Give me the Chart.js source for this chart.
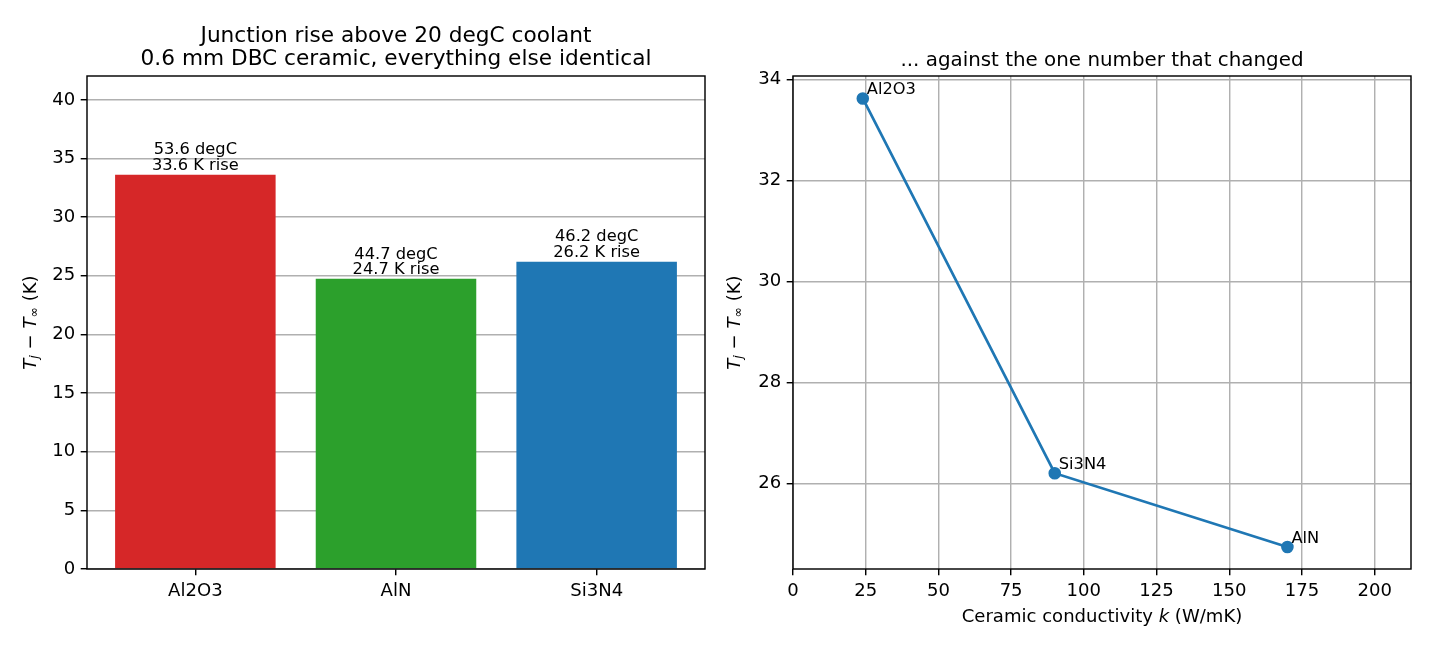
<!DOCTYPE html>
<html><head><meta charset="utf-8">
<script src="https://cdn.jsdelivr.net/npm/chart.js@4"></script>
<style>
html,body{margin:0;padding:0;background:#fff;}
#wrap{position:relative;width:1430px;height:650px;background:#fff;}
canvas{position:absolute;top:0;}
</style></head><body>
<div id="wrap">
<canvas id="c1" width="715" height="650" style="left:0px"></canvas>
<canvas id="c2" width="715" height="650" style="left:715px"></canvas>
</div>
<script>
// ---- data ----
const ceramics = ['Al2O3', 'AlN', 'Si3N4'];
const riseK = [33.62, 24.74, 26.2];
const junctionC = [53.62, 44.74, 46.2];
const barColors = ['#d62728', '#2ca02c', '#1f77b4'];
const lineNames = ['Al2O3', 'Si3N4', 'AlN'];
const lineK = [24, 90, 170];
const lineRise = [33.62, 26.2, 24.74];
const barYTicks = [0, 5, 10, 15, 20, 25, 30, 35, 40];
const lineXTicks = [0, 25, 50, 75, 100, 125, 150, 175, 200];
const lineYTicks = [26, 28, 30, 32, 34];
const leftTitle = ['Junction rise above 20 degC coolant', '0.6 mm DBC ceramic, everything else identical'];
const rightTitle = '... against the one number that changed';

// ---- style ----
const FF = "'DejaVu Sans', sans-serif";
const PT = 130 / 72;
const TICK_FS = 10 * PT, LABEL_FS = 10 * PT, ANN_FS = 9 * PT;
const GRID = '#b0b0b0';

function drawYLabel(ctx, cx, cy) {
  const fs = LABEL_FS, sub = fs * 0.7;
  const parts = [
    {t: 'T', f: 'italic ' + fs + 'px ' + FF, dy: 0},
    {t: 'j', f: 'italic ' + sub + 'px ' + FF, dy: fs * 0.2},
    {t: ' \u2212 ', f: fs + 'px ' + FF, dy: 0},
    {t: 'T', f: 'italic ' + fs + 'px ' + FF, dy: 0},
    {t: '\u221e', f: sub + 'px ' + FF, dy: fs * 0.2},
    {t: ' (K)', f: fs + 'px ' + FF, dy: 0}
  ];
  ctx.save();
  let w = 0;
  parts.forEach(p => { ctx.font = p.f; p.w = ctx.measureText(p.t).width; w += p.w; });
  ctx.translate(cx, cy);
  ctx.rotate(-Math.PI / 2);
  ctx.fillStyle = '#000';
  ctx.textBaseline = 'middle';
  ctx.textAlign = 'left';
  let x = -w / 2;
  parts.forEach(p => { ctx.font = p.f; ctx.fillText(p.t, x, p.dy); x += p.w; });
  ctx.restore();
}
function drawXLabel(ctx, cx, by) {
  const fs = LABEL_FS;
  const parts = [
    {t: 'Ceramic conductivity ', f: fs + 'px ' + FF},
    {t: 'k', f: 'italic ' + fs + 'px ' + FF},
    {t: ' (W/mK)', f: fs + 'px ' + FF}
  ];
  ctx.save();
  let w = 0;
  parts.forEach(p => { ctx.font = p.f; p.w = ctx.measureText(p.t).width; w += p.w; });
  ctx.fillStyle = '#000'; ctx.textBaseline = 'alphabetic'; ctx.textAlign = 'left';
  let x = cx - w / 2;
  parts.forEach(p => { ctx.font = p.f; ctx.fillText(p.t, x, by); x += p.w; });
  ctx.restore();
}
function spines(chart) {
  const a = chart.chartArea, ctx = chart.ctx;
  ctx.save();
  ctx.strokeStyle = '#000'; ctx.lineWidth = 1.44;
  ctx.strokeRect(a.left, a.top, a.right - a.left, a.bottom - a.top);
  ctx.restore();
}
function fixedTicks(values) {
  return s => { s.ticks = values.map(v => ({value: v})); };
}
function axisBase(fsize) {
  return {
    ticks: {font: {family: FF, size: fsize}, color: '#000', padding: 5.5, maxRotation: 0, autoSkip: false},
    grid: {color: GRID, lineWidth: 1.44, tickLength: 6.3, tickColor: '#000', tickWidth: 1.44, offset: false},
    border: {display: false}
  };
}

// ---- left: bar chart ----
const leftPlugin = {
  id: 'leftDeco',
  afterDatasetsDraw(chart) {
    const ctx = chart.ctx;
    const meta = chart.getDatasetMeta(0);
    ctx.save();
    ctx.fillStyle = '#000'; ctx.textAlign = 'center'; ctx.textBaseline = 'alphabetic';
    ctx.font = ANN_FS + 'px ' + FF;
    meta.data.forEach((bar, i) => {
      const b2 = bar.y - 4.7;
      ctx.fillText(riseK[i].toFixed(1) + ' K rise', bar.x, b2);
      ctx.fillText(junctionC[i].toFixed(1) + ' degC', bar.x, b2 - 15.5);
    });
    ctx.restore();
  },
  afterDraw(chart) {
    spines(chart);
    const ctx = chart.ctx, a = chart.chartArea;
    const cx = (a.left + a.right) / 2;
    ctx.save();
    ctx.fillStyle = '#000'; ctx.textAlign = 'center'; ctx.textBaseline = 'alphabetic';
    ctx.font = (12 * PT) + 'px ' + FF;
    ctx.fillText(leftTitle[0], cx, 41.7);
    ctx.fillText(leftTitle[1], cx, 64.5);
    ctx.restore();
    drawYLabel(ctx, 31, (a.top + a.bottom) / 2);
  }
};
const lx = axisBase(TICK_FS);
const ly = axisBase(TICK_FS);
new Chart(document.getElementById('c1'), {
  type: 'bar',
  data: {
    datasets: [{
      data: ceramics.map((c, i) => ({x: i, y: riseK[i]})),
      backgroundColor: barColors,
      borderWidth: 0,
      barPercentage: 0.8,
      categoryPercentage: 1.0
    }]
  },
  options: {
    responsive: false, animation: false, devicePixelRatio: 1,
    layout: {padding: {top: 76, right: 10, left: 0, bottom: 0}},
    plugins: {legend: {display: false}, tooltip: {enabled: false}, title: {display: false}},
    scales: {
      x: Object.assign(lx, {
        type: 'linear', min: -0.54, max: 2.54, offset: false,
        afterBuildTicks: fixedTicks([0, 1, 2]),
        afterFit: s => { s.height = 81; },
        ticks: Object.assign(lx.ticks, {callback: v => ceramics[v]}),
        grid: Object.assign(lx.grid, {drawOnChartArea: false})
      }),
      y: Object.assign(ly, {
        type: 'linear', min: 0, max: 42.03,
        afterBuildTicks: fixedTicks(barYTicks),
        afterFit: s => { s.width = 87; }
      })
    }
  },
  plugins: [leftPlugin]
});

// ---- right: line chart ----
const rightPlugin = {
  id: 'rightDeco',
  afterDatasetsDraw(chart) {
    const ctx = chart.ctx;
    const meta = chart.getDatasetMeta(0);
    ctx.save();
    ctx.fillStyle = '#000'; ctx.textAlign = 'left'; ctx.textBaseline = 'alphabetic';
    ctx.font = ANN_FS + 'px ' + FF;
    meta.data.forEach((pt, i) => {
      ctx.fillText(lineNames[i], pt.x + 4, pt.y - 4);
    });
    ctx.restore();
  },
  afterDraw(chart) {
    spines(chart);
    const ctx = chart.ctx, a = chart.chartArea;
    const cx = (a.left + a.right) / 2;
    ctx.save();
    ctx.fillStyle = '#000'; ctx.textAlign = 'center'; ctx.textBaseline = 'alphabetic';
    ctx.font = (11 * PT) + 'px ' + FF;
    ctx.fillText(rightTitle, cx, 65.5);
    ctx.restore();
    drawYLabel(ctx, 20, (a.top + a.bottom) / 2);
    drawXLabel(ctx, cx, 622);
  }
};
const rx = axisBase(TICK_FS);
const ry = axisBase(TICK_FS);
new Chart(document.getElementById('c2'), {
  type: 'line',
  data: {
    datasets: [{
      data: lineK.map((k, i) => ({x: k, y: lineRise[i]})),
      borderColor: '#1f77b4',
      borderWidth: 2.7,
      pointRadius: 5.4,
      pointBackgroundColor: '#1f77b4',
      pointBorderColor: '#1f77b4',
      pointBorderWidth: 1.8,
      tension: 0,
      fill: false,
      clip: false
    }]
  },
  options: {
    responsive: false, animation: false, devicePixelRatio: 1,
    layout: {padding: {top: 76, right: 19, left: 0, bottom: 0}},
    plugins: {legend: {display: false}, tooltip: {enabled: false}, title: {display: false}},
    scales: {
      x: Object.assign(rx, {
        type: 'linear', min: 0, max: 212.5,
        afterBuildTicks: fixedTicks(lineXTicks),
        afterFit: s => { s.height = 81; }
      }),
      y: Object.assign(ry, {
        type: 'linear', min: 24.304, max: 34.065,
        afterBuildTicks: fixedTicks(lineYTicks),
        afterFit: s => { s.width = 78; }
      })
    }
  },
  plugins: [rightPlugin]
});
</script>
</body></html>
